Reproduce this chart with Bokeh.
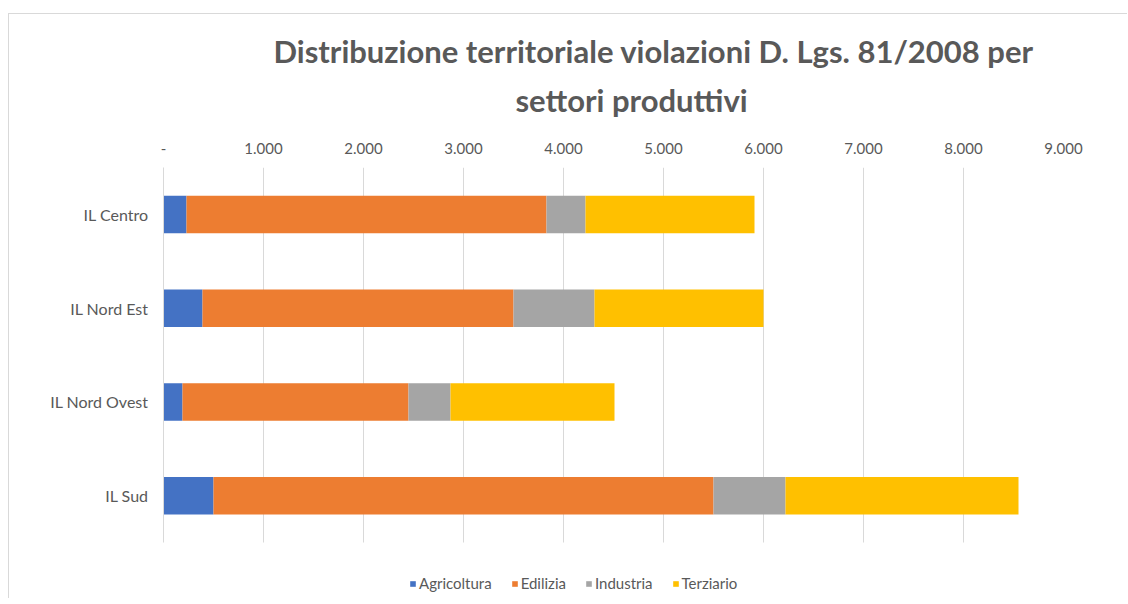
from bokeh.plotting import figure
from bokeh.models import (Range1d, FixedTicker, Legend, LegendItem, ColumnDataSource, Title)
from bokeh.embed import file_html
from bokeh.resources import INLINE

categories = ["IL Centro", "IL Nord Est", "IL Nord Ovest", "IL Sud"]
series_names = ["Agricoltura", "Edilizia", "Industria", "Terziario"]
agricoltura = [230, 390, 190, 500]
edilizia = [3600, 3110, 2260, 5000]
industria = [390, 810, 420, 720]
terziario = [1690, 1690, 1640, 2330]
x_ticks = [0, 1000, 2000, 3000, 4000, 5000, 6000, 7000, 8000, 9000]
x_tick_labels = ["-", "1.000", "2.000", "3.000", "4.000", "5.000", "6.000", "7.000", "8.000", "9.000"]
colors = ["#4472C4", "#ED7D31", "#A5A5A5", "#FFC000"]
title_line1 = "Distribuzione territoriale violazioni D. Lgs. 81/2008 per"
title_line2 = "settori produttivi"

n = len(categories)
# category slots: first category at the top
y_pos = [n - i - 0.5 for i in range(n)]

source = ColumnDataSource(data=dict(
    y=y_pos,
    Agricoltura=agricoltura,
    Edilizia=edilizia,
    Industria=industria,
    Terziario=terziario,
))

FONT = "Lato"
TXT = "#595959"

W, H = 1119, 585
B_LEFT, B_RIGHT, B_TOP = 154, 65, 153
slot_px = 93.75
frame_h = H - B_TOP
y_start = n - frame_h / slot_px

p = figure(
    width=W, height=H,
    y_range=Range1d(y_start, n),
    x_range=Range1d(0, 9000),
    x_axis_location="above",
    output_backend="svg",
    toolbar_location=None,
    min_border_left=B_LEFT, min_border_right=B_RIGHT,
    min_border_top=B_TOP, min_border_bottom=0,
    outline_line_color=None,
    margin=(13, 0, 0, 8),
    styles={"border-top": "1px solid #d9d9d9", "border-left": "1px solid #d9d9d9"},
)

renderers = p.hbar_stack(series_names, y="y", height=0.4, color=colors,
                         source=source, line_color=None)

for txt, so, off in ((title_line2, 42, 352), (title_line1, -25, 110)):
    t = Title(text=txt, align="left", offset=off, text_font=FONT, standoff=so,
              text_font_size="31px", text_font_style="bold", text_color=TXT)
    p.add_layout(t, "above")

xa = p.xaxis[0]
xa.ticker = FixedTicker(ticks=x_ticks)
xa.major_label_overrides = {t: l for t, l in zip(x_ticks, x_tick_labels)}
xa.axis_line_color = None
xa.major_tick_line_color = None
xa.minor_tick_line_color = None
xa.major_tick_out = 0
xa.major_tick_in = 0
xa.major_label_standoff = 14
xa.major_label_text_font = FONT
xa.major_label_text_font_size = "15px"
xa.major_label_text_color = TXT

ya = p.yaxis[0]
ya.ticker = FixedTicker(ticks=y_pos)
ya.major_label_overrides = {yv: c for yv, c in zip(y_pos, categories)}
ya.bounds = (0, n)
ya.axis_line_color = "#d9d9d9"
ya.major_tick_line_color = None
ya.minor_tick_line_color = None
ya.major_tick_out = 0
ya.major_tick_in = 0
ya.major_label_standoff = 15
ya.major_label_text_font = FONT
ya.major_label_text_font_size = "16px"
ya.major_label_text_color = TXT

p.xgrid.ticker = FixedTicker(ticks=x_ticks)
p.xgrid.grid_line_color = "#d9d9d9"
try:
    p.xgrid.cross_bounds = (0, n)
except AttributeError:
    p.xgrid.grid_line_color = None
    p.segment(x0=x_ticks, x1=x_ticks, y0=[0] * len(x_ticks), y1=[n] * len(x_ticks),
              line_color="#d9d9d9", level="underlay")
p.ygrid.grid_line_color = None

items = [LegendItem(label=nm, renderers=[r]) for nm, r in zip(series_names, renderers)]
legend = Legend(items=items, orientation="horizontal", location=(246, 7),
                glyph_width=7, glyph_height=7, spacing=19, label_standoff=3,
                label_text_font=FONT, label_text_font_size="15px", label_text_color=TXT,
                border_line_color=None, background_fill_alpha=0,
                padding=0, margin=0)
p.add_layout(legend, "center")

open("out.html", "w").write(file_html(p, INLINE))
